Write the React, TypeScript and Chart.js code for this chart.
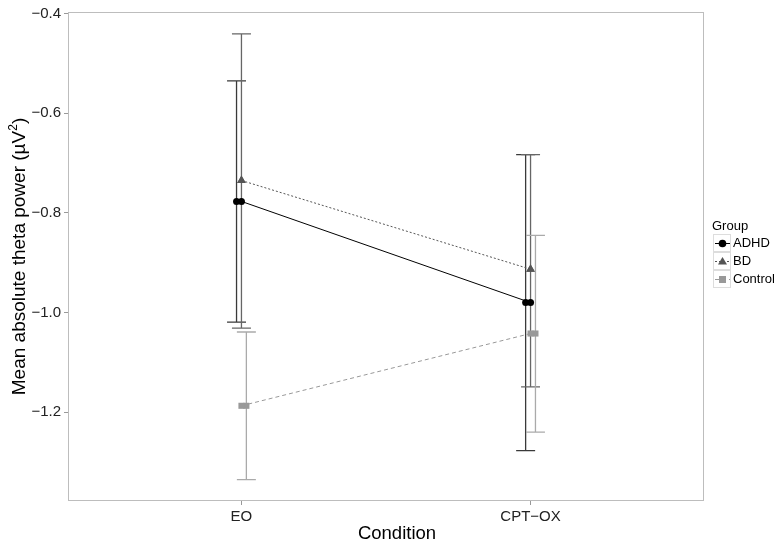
import React, { useEffect, useRef } from "react";
import { Chart, registerables } from "chart.js";

Chart.register(...registerables);

const conditions = ["EO", "CPT\u2212OX"];
const conditionPos = [1, 2];
const groups = ["ADHD", "BD", "Control"];
const yTicks = [-0.4, -0.6, -0.8, -1.0, -1.2];

const adhdMean = [-0.777, -0.98];
const adhdUpper = [-0.535, -0.683];
const adhdLower = [-1.019, -1.277];

const bdMean = [-0.735, -0.913];
const bdUpper = [-0.441, -0.683];
const bdLower = [-1.031, -1.149];

const controlMean = [-1.187, -1.042];
const controlUpper = [-1.039, -0.845];
const controlLower = [-1.335, -1.24];

const groupDodge = [-0.017, 0, 0.017];
const groupColors = ["#000000", "#555555", "#999999"];
const barColors = ["#3a3a3a", "#666666", "#aaaaaa"];
const lineDash = [[], [2, 2], [4, 3]];
const pointStyles = ["circle", "triangle", "rect"];
const pointRadii = [3.5, 5, 4.3];

const means = [adhdMean, bdMean, controlMean];
const uppers = [adhdUpper, bdUpper, controlUpper];
const lowers = [adhdLower, bdLower, controlLower];

const FONT = "'Liberation Sans', Arial, Helvetica, sans-serif";

export default function App() {
  const ref = useRef<HTMLCanvasElement | null>(null);

  useEffect(() => {
    if (!ref.current) return;

    const datasets: any[] = [];
    groups.forEach((g, gi) => {
      datasets.push({
        label: g,
        data: conditionPos.map((x, ci) => ({ x, y: means[gi][ci] })),
        showLine: true,
        borderColor: groupColors[gi],
        backgroundColor: groupColors[gi],
        borderWidth: 1,
        borderDash: lineDash[gi],
        pointStyle: pointStyles[gi],
        pointRadius: pointRadii[gi],
        pointBorderWidth: 0,
        pointBackgroundColor: groupColors[gi],
        order: 1,
      });
      datasets.push({
        label: g + " dodged",
        data: conditionPos.map((x, ci) => ({ x: x + groupDodge[gi], y: means[gi][ci] })),
        showLine: false,
        borderColor: groupColors[gi],
        backgroundColor: groupColors[gi],
        pointStyle: pointStyles[gi],
        pointRadius: pointRadii[gi],
        pointBorderWidth: 0,
        pointBackgroundColor: groupColors[gi],
        order: 1,
      });
    });

    const panelPlugin = {
      id: "panel",
      beforeDatasetsDraw(chart: any) {
        const { ctx, scales } = chart;
        ctx.save();
        groups.forEach((g, gi) => {
          conditionPos.forEach((cx, ci) => {
            const x = scales.x.getPixelForValue(cx + groupDodge[gi]);
            const yT = scales.y.getPixelForValue(uppers[gi][ci]);
            const yB = scales.y.getPixelForValue(lowers[gi][ci]);
            ctx.strokeStyle = barColors[gi];
            ctx.lineWidth = 1.3;
            ctx.setLineDash([]);
            ctx.beginPath();
            ctx.moveTo(x, yT);
            ctx.lineTo(x, yB);
            ctx.moveTo(x - 9.5, yT);
            ctx.lineTo(x + 9.5, yT);
            ctx.moveTo(x - 9.5, yB);
            ctx.lineTo(x + 9.5, yB);
            ctx.stroke();
          });
        });
        ctx.restore();
      },
      afterDraw(chart: any) {
        const { ctx, chartArea } = chart;
        ctx.save();
        ctx.strokeStyle = "#bdbdbd";
        ctx.lineWidth = 1;
        ctx.setLineDash([]);
        ctx.strokeRect(
          Math.round(chartArea.left) + 0.5,
          Math.round(chartArea.top) + 0.5,
          Math.round(chartArea.right - chartArea.left) - 1,
          Math.round(chartArea.bottom - chartArea.top) - 1
        );

        // y title with superscript
        ctx.fillStyle = "#000";
        const cy = (chartArea.top + chartArea.bottom) / 2;
        ctx.translate(25, cy);
        ctx.rotate(-Math.PI / 2);
        const t1 = "Mean absolute theta power (\u00B5V";
        const t3 = ")";
        ctx.font = `19px ${FONT}`;
        const w1 = ctx.measureText(t1).width;
        const w3 = ctx.measureText(t3).width;
        ctx.font = `12px ${FONT}`;
        const w2 = ctx.measureText("2").width;
        const total = w1 + w2 + w3;
        const xs = -total / 2;
        ctx.textBaseline = "alphabetic";
        ctx.textAlign = "left";
        ctx.font = `19px ${FONT}`;
        ctx.fillText(t1, xs, 0);
        ctx.font = `12px ${FONT}`;
        ctx.fillText("2", xs + w1, -8);
        ctx.font = `19px ${FONT}`;
        ctx.fillText(t3, xs + w1 + w2, 0);
        ctx.setTransform(1, 0, 0, 1, 0, 0);

        // x title
        ctx.font = `18.5px ${FONT}`;
        ctx.textAlign = "center";
        ctx.textBaseline = "middle";
        ctx.fillText("Condition", 397, 534);

        // legend
        const lx = 712;
        ctx.textAlign = "left";
        ctx.textBaseline = "middle";
        ctx.font = `13px ${FONT}`;
        ctx.fillStyle = "#000";
        ctx.fillText("Group", lx, 226);
        const rowY = [243, 261, 279];
        groups.forEach((g, gi) => {
          const ky = rowY[gi];
          ctx.strokeStyle = "#dddddd";
          ctx.lineWidth = 1;
          ctx.setLineDash([]);
          ctx.strokeRect(lx + 1.5, ky - 8.5, 17, 17);
          ctx.strokeStyle = groupColors[gi];
          ctx.lineWidth = 1;
          ctx.setLineDash(lineDash[gi]);
          ctx.beginPath();
          ctx.moveTo(lx + 3, ky + 0.5);
          ctx.lineTo(lx + 18, ky + 0.5);
          ctx.stroke();
          ctx.setLineDash([]);
          ctx.fillStyle = groupColors[gi];
          const cx = lx + 10.5;
          if (pointStyles[gi] === "circle") {
            ctx.beginPath();
            ctx.arc(cx, ky + 0.5, 3.8, 0, Math.PI * 2);
            ctx.fill();
          } else if (pointStyles[gi] === "triangle") {
            ctx.beginPath();
            ctx.moveTo(cx, ky - 4);
            ctx.lineTo(cx + 4.5, ky + 3.5);
            ctx.lineTo(cx - 4.5, ky + 3.5);
            ctx.closePath();
            ctx.fill();
          } else {
            ctx.fillRect(cx - 3.5, ky - 3, 7, 7);
          }
          ctx.fillStyle = "#000";
          ctx.font = `13px ${FONT}`;
          ctx.fillText(g, lx + 21, ky + 0.5);
        });
        ctx.restore();
      },
    };

    const chart = new Chart(ref.current, {
      type: "scatter",
      data: { datasets },
      options: {
        animation: false,
        responsive: false,
        maintainAspectRatio: false,
        layout: { padding: { top: 8, right: 71, left: 0, bottom: 0 } },
        plugins: {
          legend: { display: false },
          tooltip: { enabled: false },
          title: { display: false },
        },
        scales: {
          x: {
            type: "linear",
            min: 0.4,
            max: 2.6,
            afterBuildTicks(scale: any) {
              scale.ticks = conditionPos.map((v) => ({ value: v }));
            },
            afterFit(scale: any) {
              scale.height = 45;
            },
            ticks: {
              autoSkip: false,
              maxRotation: 0,
              padding: 3,
              color: "#222",
              font: { family: FONT, size: 15 },
              callback: (v: any) => {
                const i = conditionPos.indexOf(Number(v));
                return i >= 0 ? conditions[i] : "";
              },
            },
            grid: {
              drawOnChartArea: false,
              drawTicks: true,
              tickLength: 4,
              color: "#999",
            },
            border: { display: false },
          },
          y: {
            type: "linear",
            min: -1.378,
            max: -0.397,
            afterBuildTicks(scale: any) {
              scale.ticks = yTicks.map((v) => ({ value: v }));
            },
            afterFit(scale: any) {
              scale.width = 68;
            },
            ticks: {
              autoSkip: false,
              padding: 3,
              color: "#222",
              font: { family: FONT, size: 15 },
              callback: (v: any) => {
                const n = Number(v);
                const s = Math.abs(n).toFixed(1);
                return n < 0 ? "\u2212" + s : s;
              },
            },
            grid: {
              drawOnChartArea: false,
              drawTicks: true,
              tickLength: 4,
              color: "#999",
            },
            border: { display: false },
          },
        },
      },
      plugins: [panelPlugin],
    } as any);

    return () => chart.destroy();
  }, []);

  return (
    <div style={{ position: "absolute", left: 0, top: 0, width: 775, height: 546, background: "#fff" }}>
      <canvas ref={ref} width={775} height={546} style={{ width: 775, height: 546, display: "block" }} />
    </div>
  );
}
